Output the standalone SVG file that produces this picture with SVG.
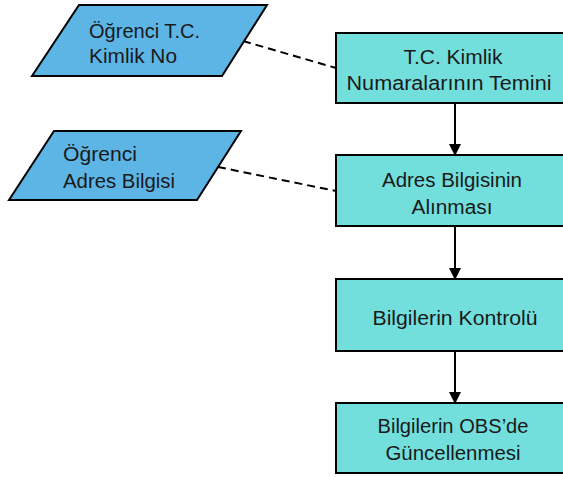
<svg xmlns="http://www.w3.org/2000/svg" width="563" height="477" viewBox="0 0 563 477">
  <style>
    .data { fill: #5DB5E6; stroke: #000; stroke-width: 2; }
    .proc { fill: #72DFDC; stroke: #000; stroke-width: 2; }
    .lbl { font-family: "Liberation Sans", Arial, sans-serif; font-size: 20px; fill: #1a1a1a; }
    .mid { text-anchor: middle; }
    .flow { stroke: #000; stroke-width: 2; fill: none; marker-end: url(#arrow); }
    .assoc { stroke: #000; stroke-width: 2; fill: none; stroke-dasharray: 8 5; }
  </style>
  <defs>
    <marker id="arrow" markerWidth="12" markerHeight="12" refX="11" refY="6" orient="auto" markerUnits="userSpaceOnUse">
      <path d="M0,0 L12,6 L0,12 Z" fill="#000"/>
    </marker>
  </defs>

  <g id="connectors">
    <line class="assoc" x1="243" y1="41" x2="336" y2="68"/>
    <line class="assoc" x1="218" y1="167" x2="336" y2="191"/>
    <line class="flow" x1="455" y1="103" x2="455" y2="155"/>
    <line class="flow" x1="455" y1="226" x2="455" y2="279"/>
    <line class="flow" x1="455" y1="351" x2="455" y2="403"/>
  </g>

  <g id="input-tc">
    <polygon class="data" points="79,5 267,5 222,76 32,76"/>
    <text class="lbl" x="89" y="38" textLength="111" lengthAdjust="spacingAndGlyphs">Öğrenci T.C.</text>
    <text class="lbl" x="89" y="63" textLength="88" lengthAdjust="spacingAndGlyphs">Kimlik No</text>
  </g>

  <g id="input-adres">
    <polygon class="data" points="54,131 241,131 197,200 9,200"/>
    <text class="lbl" x="63" y="161" textLength="74" lengthAdjust="spacingAndGlyphs">Öğrenci</text>
    <text class="lbl" x="63" y="188" textLength="112" lengthAdjust="spacingAndGlyphs">Adres Bilgisi</text>
  </g>

  <g id="step-temin">
    <rect class="proc" x="336" y="33" width="240" height="70"/>
    <text class="lbl mid" x="453" y="64" textLength="99" lengthAdjust="spacingAndGlyphs">T.C. Kimlik</text>
    <text class="lbl mid" x="449" y="90" textLength="205" lengthAdjust="spacingAndGlyphs">Numaralarının Temini</text>
  </g>

  <g id="step-adres">
    <rect class="proc" x="336" y="155" width="240" height="71"/>
    <text class="lbl mid" x="452" y="187" textLength="140" lengthAdjust="spacingAndGlyphs">Adres Bilgisinin</text>
    <text class="lbl mid" x="452" y="214" textLength="81" lengthAdjust="spacingAndGlyphs">Alınması</text>
  </g>

  <g id="step-kontrol">
    <rect class="proc" x="336" y="279" width="240" height="72"/>
    <text class="lbl mid" x="455" y="325" textLength="165" lengthAdjust="spacingAndGlyphs">Bilgilerin Kontrolü</text>
  </g>

  <g id="step-obs">
    <rect class="proc" x="336" y="403" width="240" height="70"/>
    <text class="lbl mid" x="453" y="433" textLength="151" lengthAdjust="spacingAndGlyphs">Bilgilerin OBS’de</text>
    <text class="lbl mid" x="453" y="460" textLength="135" lengthAdjust="spacingAndGlyphs">Güncellenmesi</text>
  </g>
</svg>
